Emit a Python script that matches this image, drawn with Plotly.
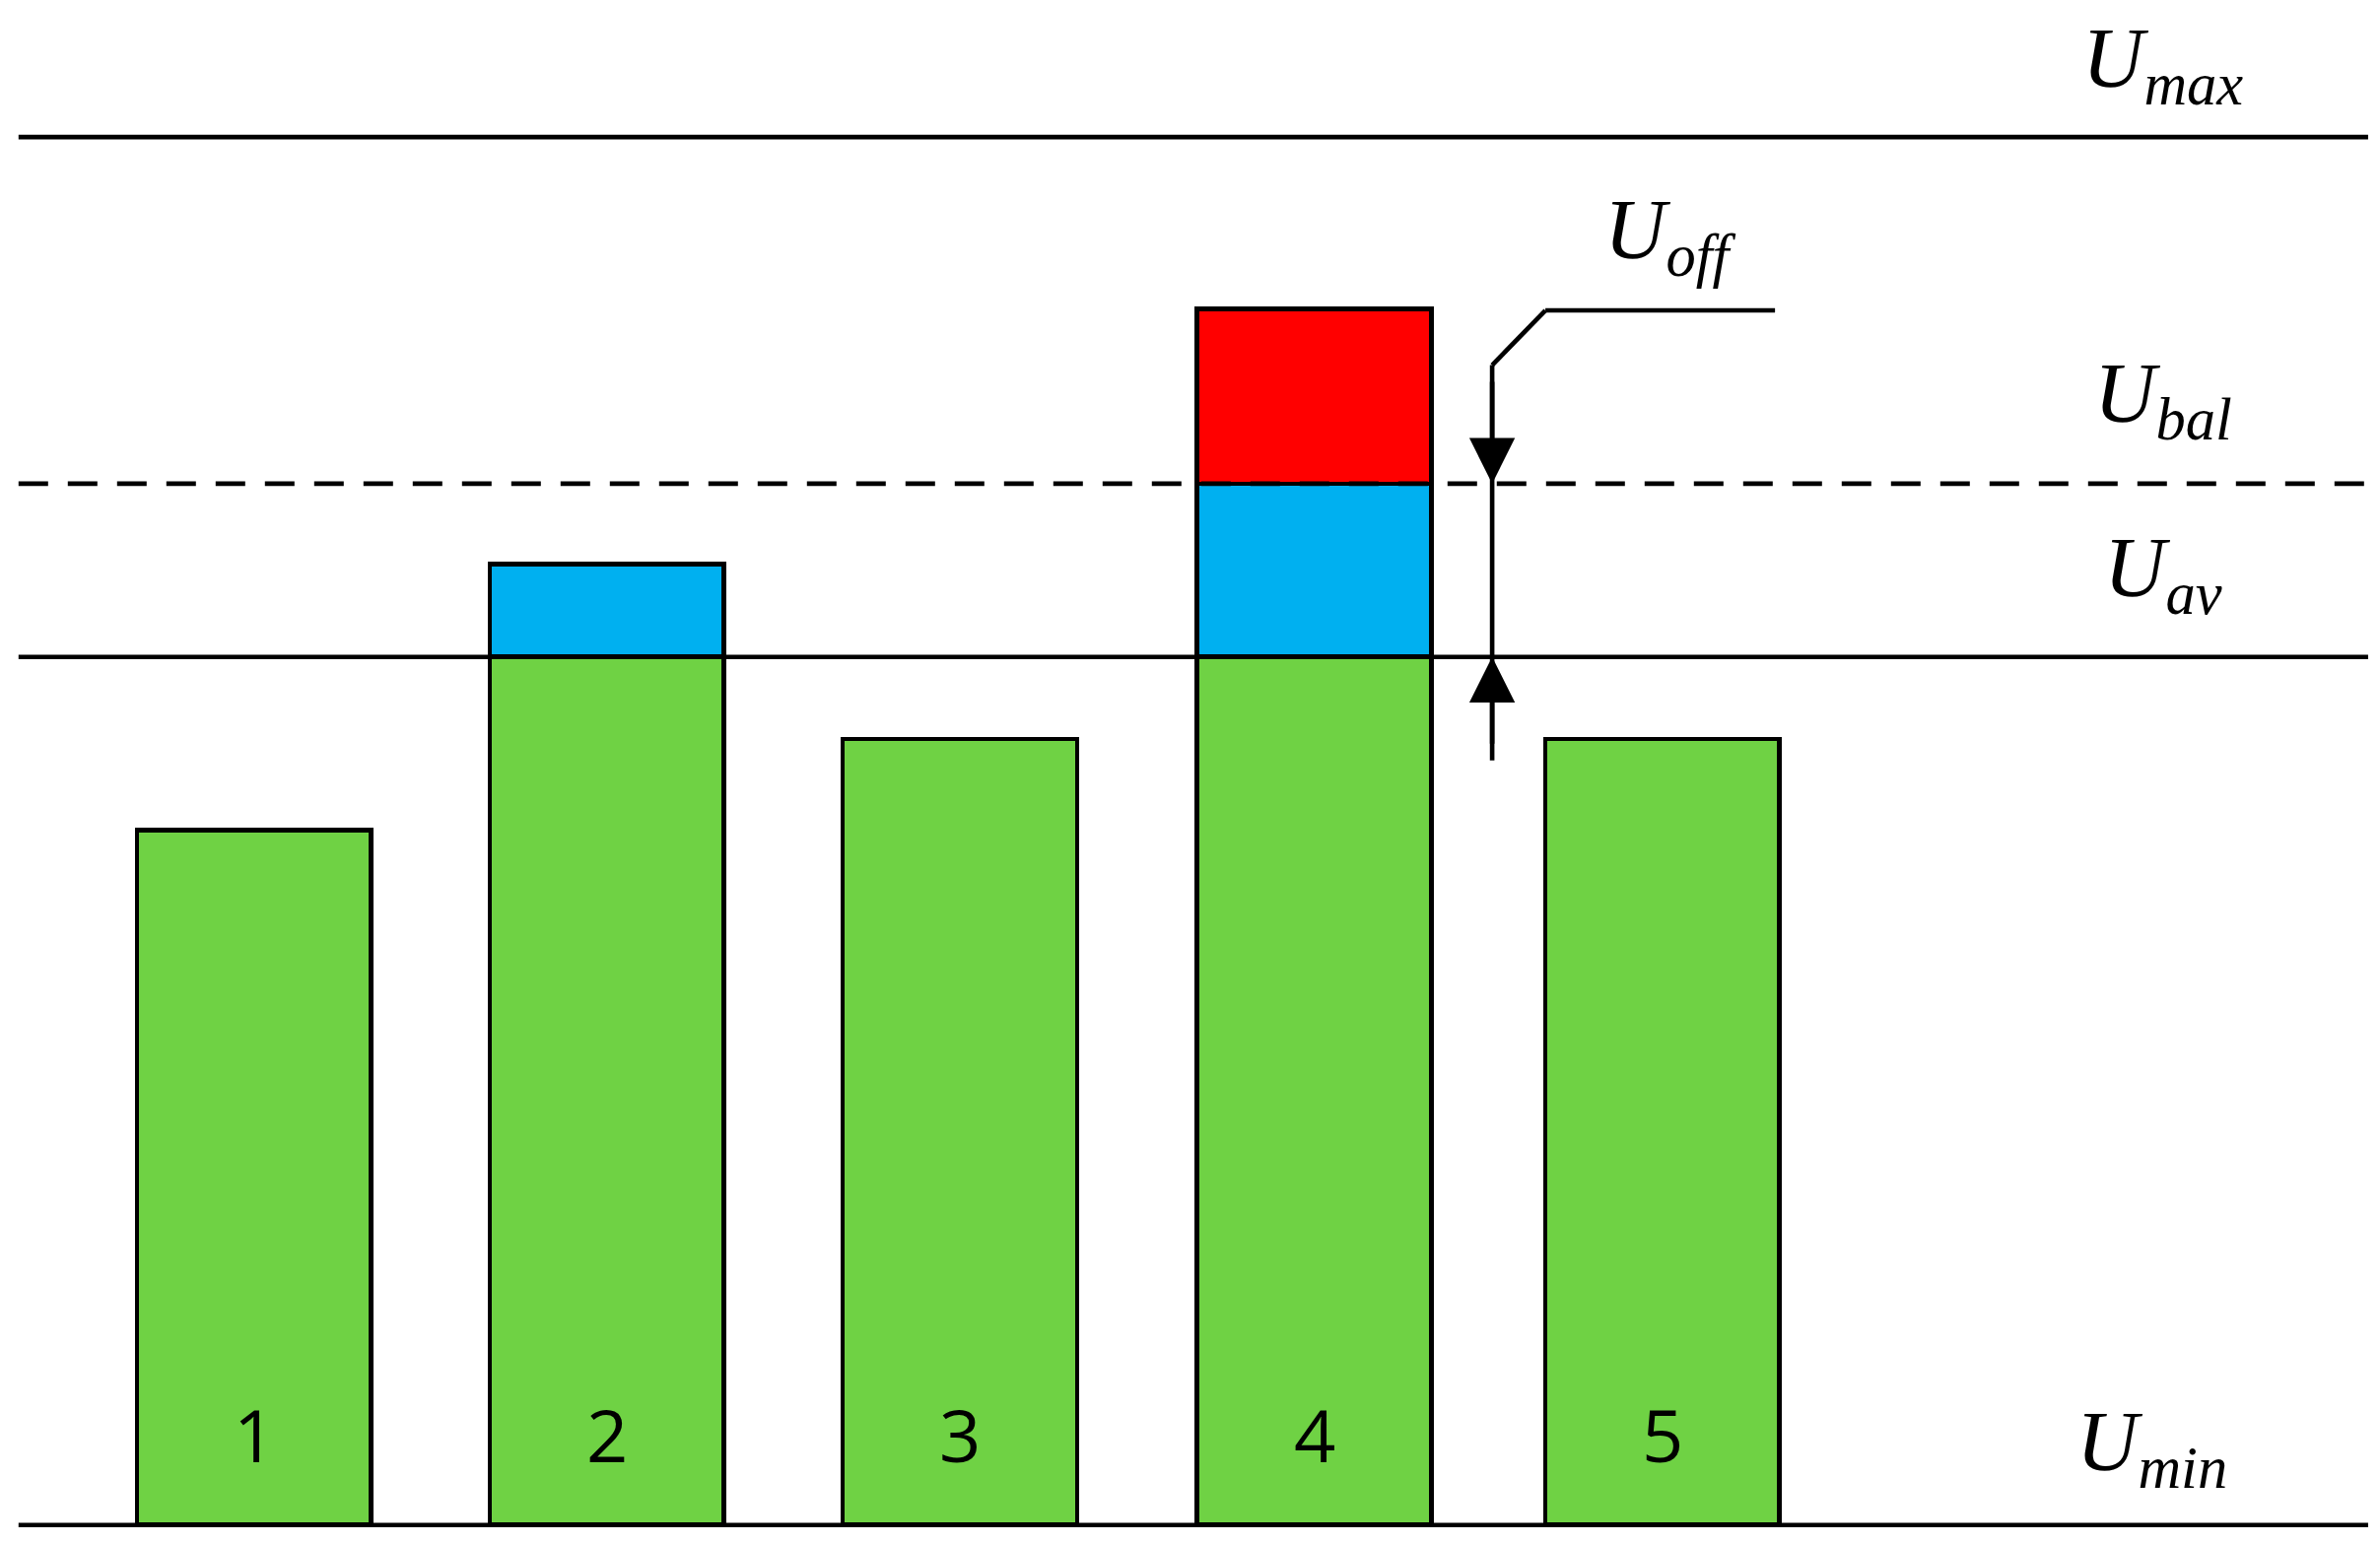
import plotly.graph_objects as go

cells = ["1", "2", "3", "4", "5"]
xpos = [167, 399, 631, 864, 1093]
green = [457, 571, 517, 571, 517]
blue = [0, 61, 0, 114, 0]
red = [0, 0, 0, 115, 0]
U_min, U_av, U_bal, U_max = 0, 571, 685, 913

S = 2415 / 1565
fig = go.Figure()
for vals, col in [(green, "#6fd244"), (blue, "#00b0f0"), (red, "#ff0000")]:
    fig.add_trace(go.Bar(x=xpos, y=vals, width=154, marker=dict(color=col, line=dict(color="black", width=3 * S)),
                         showlegend=False, hoverinfo="skip"))
fig.update_layout(barmode="stack")

def hline(y, dash="solid"):
    fig.add_shape(type="line", x0=12, x1=1557, y0=y, y1=y, line=dict(color="black", width=3 * S, dash=dash))

hline(U_min); hline(U_av); hline(U_max)
hline(U_bal, dash="30px,20px")

def Y(p):
    return 1003 - p

fig.add_shape(type="line", x0=981, x1=981, y0=Y(240), y1=Y(500), line=dict(color="black", width=3 * S))
fig.add_shape(type="line", x0=981, x1=1016, y0=Y(240), y1=Y(204), line=dict(color="black", width=3 * S))
fig.add_shape(type="line", x0=1016, x1=1167, y0=Y(204), y1=Y(204), line=dict(color="black", width=3 * S))
for y0, y1 in [(Y(250), U_bal), (Y(490), U_av)]:
    fig.add_annotation(x=981, y=y1, ax=981, ay=y0, xref="x", yref="y", axref="x", ayref="y", text="",
                       showarrow=True, arrowhead=2, arrowsize=2.0, arrowwidth=3 * S, arrowcolor="black")

font = dict(family="Liberation Serif", size=56 * S, color="black")
labels = [("max", 1422, Y(42)), ("bal", 1422, Y(262)), ("av", 1422, Y(377)), ("min", 1415, Y(952)), ("off", 1098, Y(155))]
for sub, x, y in labels:
    fig.add_annotation(x=x, y=y, text=f"<i>U<sub>{sub}</sub></i>", showarrow=False, font=font)
for c, x in zip(cells, xpos):
    fig.add_annotation(x=x, y=Y(943), text=c, showarrow=False,
                       font=dict(family="Open Sans", size=48 * S, color="black"))

fig.update_layout(width=2415, height=1566, margin=dict(l=0, r=0, t=0, b=0),
                  plot_bgcolor="white", paper_bgcolor="white",
                  xaxis=dict(range=[5, 1570], visible=False),
                  yaxis=dict(range=[-17, 998], visible=False))
fig.write_html("out.html")
